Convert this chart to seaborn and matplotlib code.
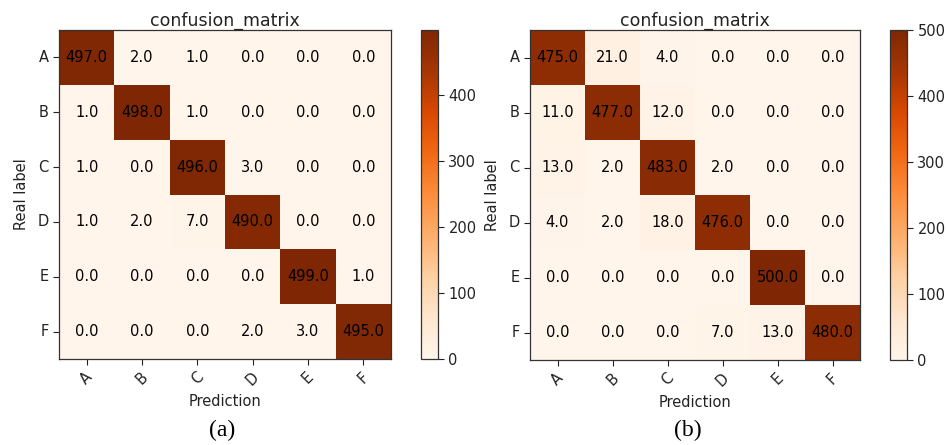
import numpy as np
import pandas as pd
import matplotlib
matplotlib.use("Agg")
import matplotlib.pyplot as plt
import seaborn as sns

classes = ["A", "B", "C", "D", "E", "F"]

cm_a = [
    [497, 2, 1, 0, 0, 0],
    [1, 498, 1, 0, 0, 0],
    [1, 0, 496, 3, 0, 0],
    [1, 2, 7, 490, 0, 0],
    [0, 0, 0, 0, 499, 1],
    [0, 0, 0, 2, 3, 495],
]
cm_b = [
    [475, 21, 4, 0, 0, 0],
    [11, 477, 12, 0, 0, 0],
    [13, 2, 483, 2, 0, 0],
    [4, 2, 18, 476, 0, 0],
    [0, 0, 0, 0, 500, 0],
    [0, 0, 0, 7, 13, 480],
]
cbar_ticks_a = [0, 100, 200, 300, 400]
cbar_ticks_b = [0, 100, 200, 300, 400, 500]
panel_labels = ["(a)", "(b)"]

W, H = 947, 445
fig = plt.figure(figsize=(W / 100, H / 100), dpi=100)


def frac(x0, y0, x1, y1):
    return [x0 / W, 1 - y1 / H, (x1 - x0) / W, (y1 - y0) / H]


panels = [
    (cm_a, cbar_ticks_a, frac(59, 30, 391, 359), frac(421, 30, 438, 359), 222),
    (cm_b, cbar_ticks_b, frac(530, 30, 860, 360), frac(890, 30, 907, 360), 688),
]

for (cm, cticks, axpos, cbpos, lx), plabel in zip(panels, panel_labels):
    ax = fig.add_axes(axpos)
    cax = fig.add_axes(cbpos)
    df = pd.DataFrame(np.array(cm, dtype=float), index=classes, columns=classes)
    sns.heatmap(df, ax=ax, cbar_ax=cax, cmap="Oranges", annot=True, fmt=".1f",
                annot_kws={"color": "black", "fontsize": 10.5},
                vmin=0, vmax=float(np.max(cm)), cbar_kws={"ticks": cticks})
    for s in ax.spines.values():
        s.set_visible(True)
        s.set_color("#333333")
        s.set_linewidth(0.9)
    ax.tick_params(axis="both", length=4, width=0.8, labelsize=10.5,
                   colors="#222222")
    ax.set_xticklabels(classes, rotation=45)
    ax.set_yticklabels(classes, rotation=0)
    ax.set_title("confusion_matrix", fontsize=12.5, color="#222222", pad=3)
    ax.set_xlabel("Prediction", fontsize=10.5, color="#222222")
    ax.set_ylabel("Real label", fontsize=10.5, color="#222222", labelpad=6)
    cb = ax.collections[0].colorbar
    cb.outline.set_linewidth(0.9)
    cb.outline.set_edgecolor("#333333")
    cax.tick_params(labelsize=10.5, length=4, width=0.8, colors="#222222")
    fig.text(lx / W, 1 - 430 / H, plabel, ha="center", va="center",
             fontsize=17, family="Liberation Serif")

fig.savefig("out.png", dpi=100)
